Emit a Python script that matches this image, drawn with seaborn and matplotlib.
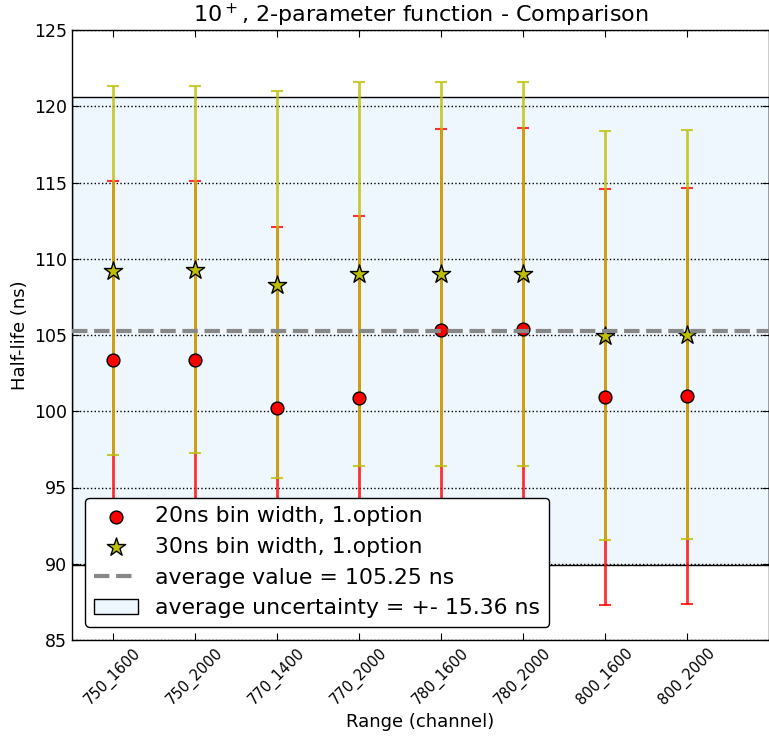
import numpy as np
import pandas as pd
import matplotlib
matplotlib.use("Agg")
import matplotlib.pyplot as plt
import seaborn as sns

ranges = ["750_1600", "750_2000", "770_1400", "770_2000",
          "780_1600", "780_2000", "800_1600", "800_2000"]
hl_20 = [103.35, 103.35, 100.2, 100.9, 105.35, 105.4, 100.95, 101.0]
err_20 = [11.76, 11.76, 11.85, 11.92, 13.15, 13.15, 13.65, 13.65]
hl_30 = [109.22, 109.28, 108.3, 108.98, 109.0, 109.0, 104.95, 105.03]
err_30 = [12.1, 12.05, 12.7, 12.6, 12.6, 12.6, 13.42, 13.4]
avg_value = 105.25
avg_unc = 15.36

sns.set_style("white")
plt.rcParams['font.family'] = ['DejaVu Sans']
plt.rcParams.update({
    "xtick.direction": "in", "ytick.direction": "in",
    "xtick.top": True, "ytick.right": True,
    "xtick.bottom": True, "ytick.left": True,
    "xtick.major.size": 5, "ytick.major.size": 5,
    "axes.edgecolor": "black", "axes.linewidth": 1.0,
    "xtick.color": "black", "ytick.color": "black",
    "text.color": "black", "axes.labelcolor": "black",
})

fig = plt.figure(figsize=(7.69, 7.39), dpi=100)
ax = fig.add_axes([72/769, 1-640/739, 1-72/769, 610/739])

xpos = np.arange(len(ranges))
df20 = pd.DataFrame({"x": xpos, "y": hl_20})
df30 = pd.DataFrame({"x": xpos, "y": hl_30})

ax.axhspan(avg_value - avg_unc, avg_value + avg_unc, facecolor="#eef6fe",
           edgecolor="black", linewidth=1.0, zorder=1,
           label="average uncertainty = +- 15.36 ns")

ax.errorbar(xpos, hl_20, yerr=err_20, fmt="none", ecolor="red", alpha=0.8,
            elinewidth=2, capsize=4, capthick=1.5, zorder=2)
ax.errorbar(xpos, hl_30, yerr=err_30, fmt="none", ecolor="y", alpha=0.8,
            elinewidth=2, capsize=4, capthick=1.5, zorder=2)

sns.scatterplot(data=df20, x="x", y="y", ax=ax, marker="o", s=85, color="red",
                edgecolor="black", linewidth=1, zorder=3,
                label="20ns bin width, 1.option")
sns.scatterplot(data=df30, x="x", y="y", ax=ax, marker="*", s=190, color="y",
                edgecolor="black", linewidth=1, zorder=3,
                label="30ns bin width, 1.option")

ax.axhline(avg_value, color="#888888", linestyle="--", linewidth=3, zorder=4,
           label="average value = 105.25 ns")

ax.grid(True, axis="y", linestyle=":", color="black", linewidth=1)
ax.set_axisbelow("line")

ax.set_xlim(-0.5, 8)
ax.set_ylim(85, 125)
ax.set_yticks(np.arange(85, 126, 5))
ax.set_xticks(xpos)
ax.set_xticklabels(ranges, rotation=45, ha="center", fontsize=10.5)
ax.tick_params(axis="y", labelsize=12.5)

ax.set_xlabel("Range (channel)", fontsize=13)
ax.set_ylabel("Half-life (ns)", fontsize=13)
ax.set_title("10$^+$, 2-parameter function - Comparison", fontsize=16)

h, l = ax.get_legend_handles_labels()
order = ["20ns bin width, 1.option", "30ns bin width, 1.option",
         "average value = 105.25 ns", "average uncertainty = +- 15.36 ns"]
hd = dict(zip(l, h))
leg = ax.legend([hd[k] for k in order], order, loc="lower left", fontsize=15.8,
                frameon=True, fancybox=True, edgecolor="black", framealpha=1,
                scatterpoints=1, labelspacing=0.48, borderaxespad=0.6)
leg.get_frame().set_linewidth(1.0)

fig.savefig("out.png", dpi=100)
